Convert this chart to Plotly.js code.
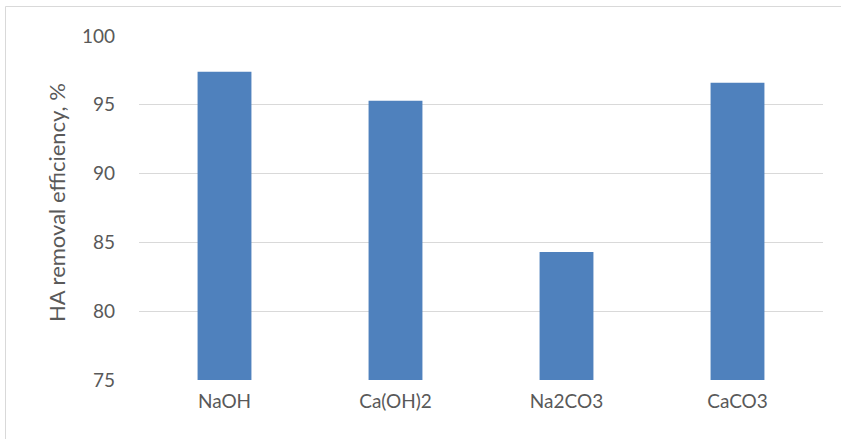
<!DOCTYPE html>
<html>
<head>
<meta charset="utf-8">
<script src="https://cdn.plot.ly/plotly-3.0.1.min.js"></script>
<style>
  html, body { margin: 0; padding: 0; background: #ffffff; }
  #chart { width: 841px; height: 439px; }
</style>
</head>
<body>
<div id="chart"></div>
<script>
// Alkaline agents tested and the humic acid removal each achieved
const agents = ['NaOH', 'Ca(OH)2', 'Na2CO3', 'CaCO3'];
const removalEfficiency = [97.4, 95.3, 84.3, 96.6];
const yTicks = [75, 80, 85, 90, 95, 100];

const textColor = '#595959';
const fontFamily = 'Lato, "Open Sans", sans-serif';

const trace = {
  type: 'bar',
  x: agents,
  y: removalEfficiency,
  marker: { color: '#4F81BD', line: { width: 0 } },
  hoverinfo: 'x+y'
};

const plotLeft = 139, plotRight = 823, plotTop = 36, plotBottom = 380;
const W = 841, H = 439;
const pw = plotRight - plotLeft, ph = plotBottom - plotTop;

const layout = {
  width: W,
  height: H,
  margin: { l: plotLeft, r: W - plotRight, t: plotTop, b: H - plotBottom, pad: 0 },
  paper_bgcolor: '#ffffff',
  plot_bgcolor: '#ffffff',
  showlegend: false,
  bargap: 0.685,
  font: { family: fontFamily, color: textColor, size: 19 },
  xaxis: {
    type: 'category',
    showgrid: false,
    zeroline: false,
    showline: false,
    ticks: '',
    tickfont: { family: fontFamily, size: 19, color: textColor },
    ticklabelstandoff: 8
  },
  yaxis: {
    range: [75, 100],
    tickvals: yTicks,
    ticktext: yTicks.map(String),
    showgrid: true,
    gridcolor: '#D9D9D9',
    gridwidth: 1,
    zeroline: false,
    showline: false,
    ticks: '',
    ticklabelstandoff: 23,
    tickfont: { family: fontFamily, size: 19, color: textColor }
  },
  annotations: [{
    text: 'HA removal efficiency, %',
    xref: 'paper', yref: 'paper',
    x: (56 - plotLeft) / pw,
    y: (plotBottom - 203) / ph,
    xanchor: 'center', yanchor: 'middle',
    textangle: -90,
    showarrow: false,
    font: { family: fontFamily, size: 22, color: textColor }
  }],
  shapes: [{
    // chart-area frame
    type: 'rect',
    xref: 'paper', yref: 'paper',
    x0: (5.5 - plotLeft) / pw,
    x1: (W + 10 - plotLeft) / pw,
    y0: (plotBottom - (H + 10)) / ph,
    y1: (plotBottom - 6.5) / ph,
    line: { color: '#D9D9D9', width: 1 },
    fillcolor: 'rgba(0,0,0,0)',
    layer: 'below'
  }]
};

Plotly.newPlot('chart', [trace], layout, { displayModeBar: false, staticPlot: true });
</script>
</body>
</html>
